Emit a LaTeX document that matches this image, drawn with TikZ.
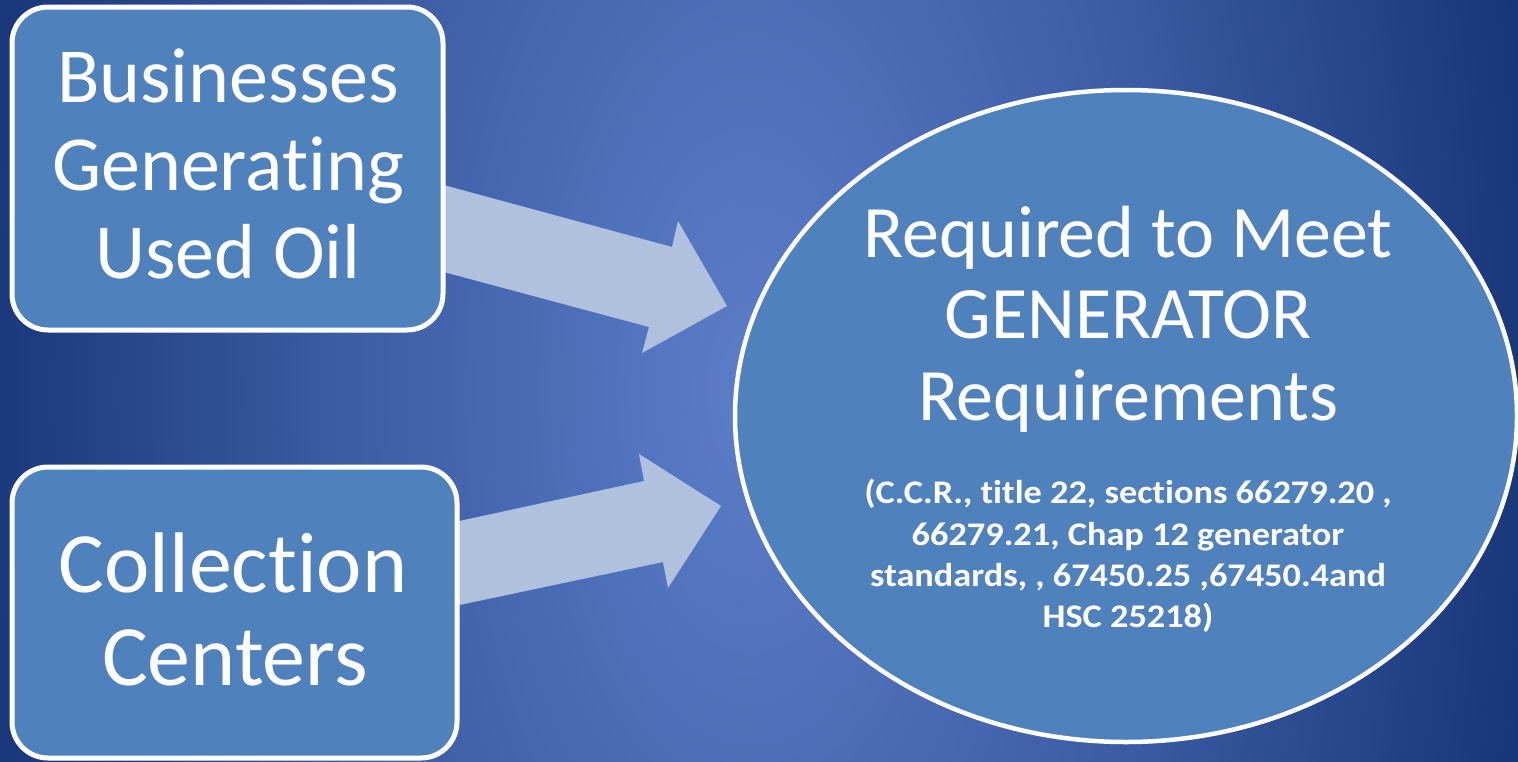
\documentclass[tikz,border=0pt]{standalone}
\usepackage{fontspec}
\setmainfont{Carlito}[Ligatures={NoCommon}]
\usetikzlibrary{shapes.geometric}
\definecolor{bginner}{HTML}{5C7EC9}
\definecolor{bgouter}{HTML}{153376}
\definecolor{boxfill}{HTML}{4F81BD}
\definecolor{arrowfill}{HTML}{B0C1DD}
\pgfdeclareradialshading{bgshade}{\pgfpoint{0bp}{0bp}}{color(0bp)=(bginner); color(12.5bp)=(bginner!55!bgouter); color(25bp)=(bgouter); color(50bp)=(bgouter)}
\begin{document}
\begin{tikzpicture}[x=1pt,y=-1pt,
  boxnode/.style={draw=white, line width=5pt, fill=boxfill, rounded corners=36pt, inner sep=0pt},
  ovalnode/.style={ellipse, draw=white, line width=4.5pt, fill=boxfill, inner sep=0pt},
  txt/.style={text=white, inner sep=0pt, anchor=base},
  bigfont/.style={font=\fontsize{78}{88}\selectfont},
  hugefont/.style={font=\fontsize{86}{93}\selectfont},
  midfont/.style={font=\fontsize{74}{81}\selectfont},
  smallfont/.style={font=\bfseries\fontsize{33}{41}\selectfont, xscale=1.1, transform shape},
  blockarrow/.style={fill=arrowfill}
]
\useasboundingbox (0,0) rectangle (1518,761);
\clip (0,0) rectangle (1518,761);
\shade[shading=bgshade] (750,390) ellipse [x radius=810, y radius=1600];

% block arrows
\coordinate (a1s) at (440,184);
\fill[blockarrow] (a1s) -- (672,247) -- (678,221) -- (727,306) -- (642,353) -- (649,327) -- (440,271) -- cycle;
\coordinate (a2s) at (450,523);
\fill[blockarrow] (a2s) -- (644,481) -- (639,454) -- (721,506) -- (668,588) -- (663,562) -- (450,607) -- cycle;

% boxes
\node[boxnode, minimum width=431pt, minimum height=323pt] (biz) at (227.5,168.5) {};
\node[boxnode, minimum width=445pt, minimum height=291pt] (coll) at (234.5,612.5) {};
\node[ovalnode, minimum width=782pt, minimum height=652pt] (req) at (1126,416) {};

% texts
\node[txt, bigfont] (b1) at (228,102) {Businesses};
\node[txt, bigfont] (b2) at (228,190) {Generating};
\node[txt, bigfont] (b3) at (228,278) {Used Oil};

\node[txt, hugefont] (c1) at (233,592) {Collection};
\node[txt, hugefont] (c2) at (235,685) {Centers};

\node[txt, midfont] (r1) at (1128,257) {Required to Meet};
\node[txt, midfont] (r2) at (1128,338) {GENERATOR};
\node[txt, midfont] (r3) at (1128,420) {Requirements};

\node[txt, smallfont] (s1) at (1128,503) {(C.C.R., title 22, sections 66279.20 ,};
\node[txt, smallfont] (s2) at (1128,545) {66279.21, Chap 12 generator};
\node[txt, smallfont] (s3) at (1128,586) {standards, , 67450.25 ,67450.4and};
\node[txt, smallfont] (s4) at (1128,627) {HSC 25218)};
\end{tikzpicture}
\end{document}
